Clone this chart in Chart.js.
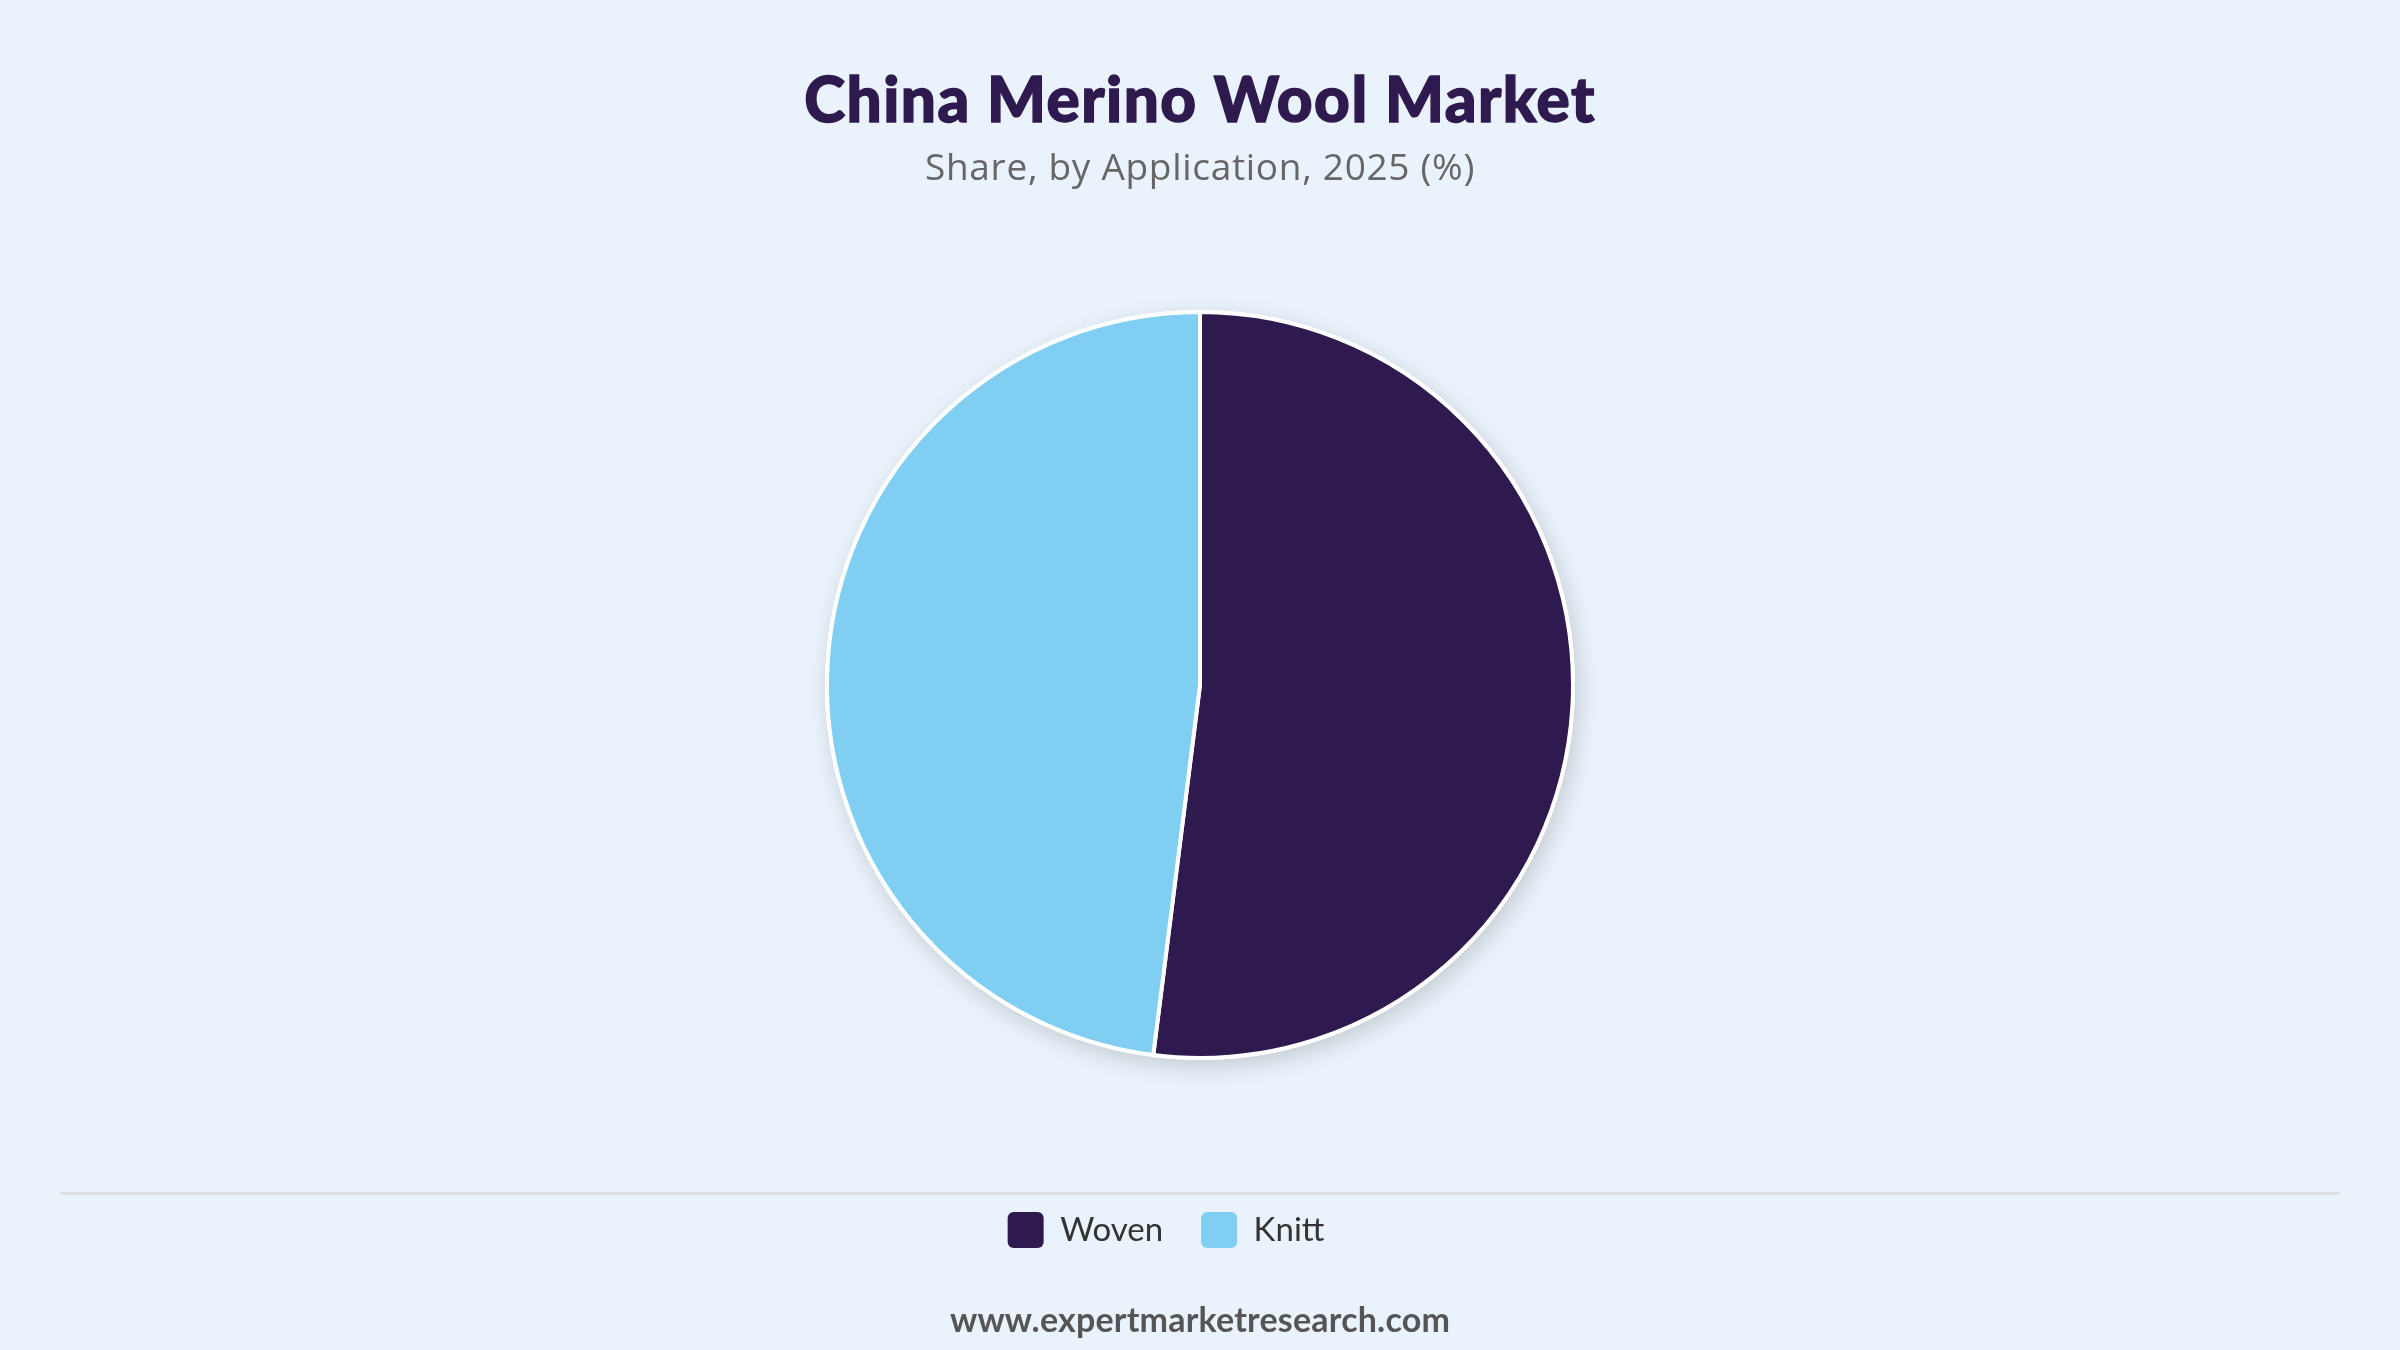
<!DOCTYPE html>
<html>
<head>
<meta charset="utf-8">
<script src="https://cdn.jsdelivr.net/npm/chart.js@4.4.1/dist/chart.umd.min.js"></script>
<style>
  html, body { margin: 0; padding: 0; background: #eaf2fb; }
  body { width: 2400px; height: 1350px; position: relative; overflow: hidden; font-family: Lato, "Open Sans", sans-serif; }
  #wrap { position: absolute; left: 0; top: 0; width: 2400px; height: 1350px; }
  .t { position: absolute; left: 0; width: 2400px; text-align: center; line-height: 1; white-space: nowrap; }
  #title { top: 67px; font-size: 62px; font-weight: 900; color: #2e1a4e; letter-spacing: 1.5px; -webkit-text-stroke: 1.4px #2e1a4e; }
  #subtitle { top: 147px; font-family: "Open Sans", sans-serif; font-size: 37px; font-weight: 400; color: #666666; letter-spacing: 0.7px; }
  #footer { top: 1302px; font-size: 34px; font-weight: 700; color: #555555; letter-spacing: 0.2px; }
  #sep { position: absolute; left: 60px; width: 2280px; top: 1192px; height: 3px; background: #dcdfe4; }
</style>
</head>
<body>
<div id="wrap"><canvas id="c" width="2400" height="1350"></canvas></div>
<div id="sep"></div>
<div class="t" id="title">China Merino Wool Market</div>
<div class="t" id="subtitle">Share, by Application, 2025 (%)</div>
<div class="t" id="footer">www.expertmarketresearch.com</div>
<script>
const categories = ["Woven", "Knitt"];
const shareValues = [52, 48];
const sliceColors = ["#2e1a4e", "#80cef2"];

const shadowPlugin = {
  id: 'pieShadow',
  beforeDatasetsDraw(chart) {
    const meta = chart.getDatasetMeta(0);
    if (!meta.data.length) return;
    const a = meta.data[0];
    const ctx = chart.ctx;
    ctx.save();
    ctx.shadowColor = 'rgba(0,0,0,0.16)';
    ctx.shadowBlur = 22;
    ctx.shadowOffsetX = 4;
    ctx.shadowOffsetY = 7;
    ctx.fillStyle = '#ffffff';
    ctx.beginPath();
    ctx.arc(a.x, a.y, a.outerRadius + 2, 0, Math.PI * 2);
    ctx.fill();
    ctx.restore();
  }
};

// legend in the reference sits slightly left of the pie's centre line
const legendNudge = {
  id: 'legendNudge',
  afterUpdate(chart) {
    if (chart.legend) {
      chart.legend.left -= 34;
      chart.legend.right -= 34;
    }
  }
};

const defaultGen = Chart.overrides.pie.plugins.legend.labels.generateLabels;

new Chart(document.getElementById('c'), {
  type: 'pie',
  data: {
    labels: categories,
    datasets: [{
      data: shareValues,
      backgroundColor: sliceColors,
      borderColor: '#ffffff',
      borderWidth: 4
    }]
  },
  options: {
    responsive: false,
    devicePixelRatio: 1,
    animation: false,
    events: [],
    radius: 373,
    layout: { padding: { top: 196, bottom: 92, left: 0, right: 0 } },
    plugins: {
      tooltip: { enabled: false },
      title: { display: false },
      legend: {
        display: true,
        position: 'bottom',
        labels: {
          boxWidth: 36,
          boxHeight: 36,
          padding: 38,
          color: '#333333',
          useBorderRadius: true,
          borderRadius: 6,
          font: { family: 'Lato', size: 33, weight: '400' },
          generateLabels(chart) {
            return defaultGen(chart).map(l => Object.assign(l, { lineWidth: 0, strokeStyle: 'rgba(0,0,0,0)' }));
          }
        }
      }
    }
  },
  plugins: [shadowPlugin, legendNudge]
});
</script>
</body>
</html>
